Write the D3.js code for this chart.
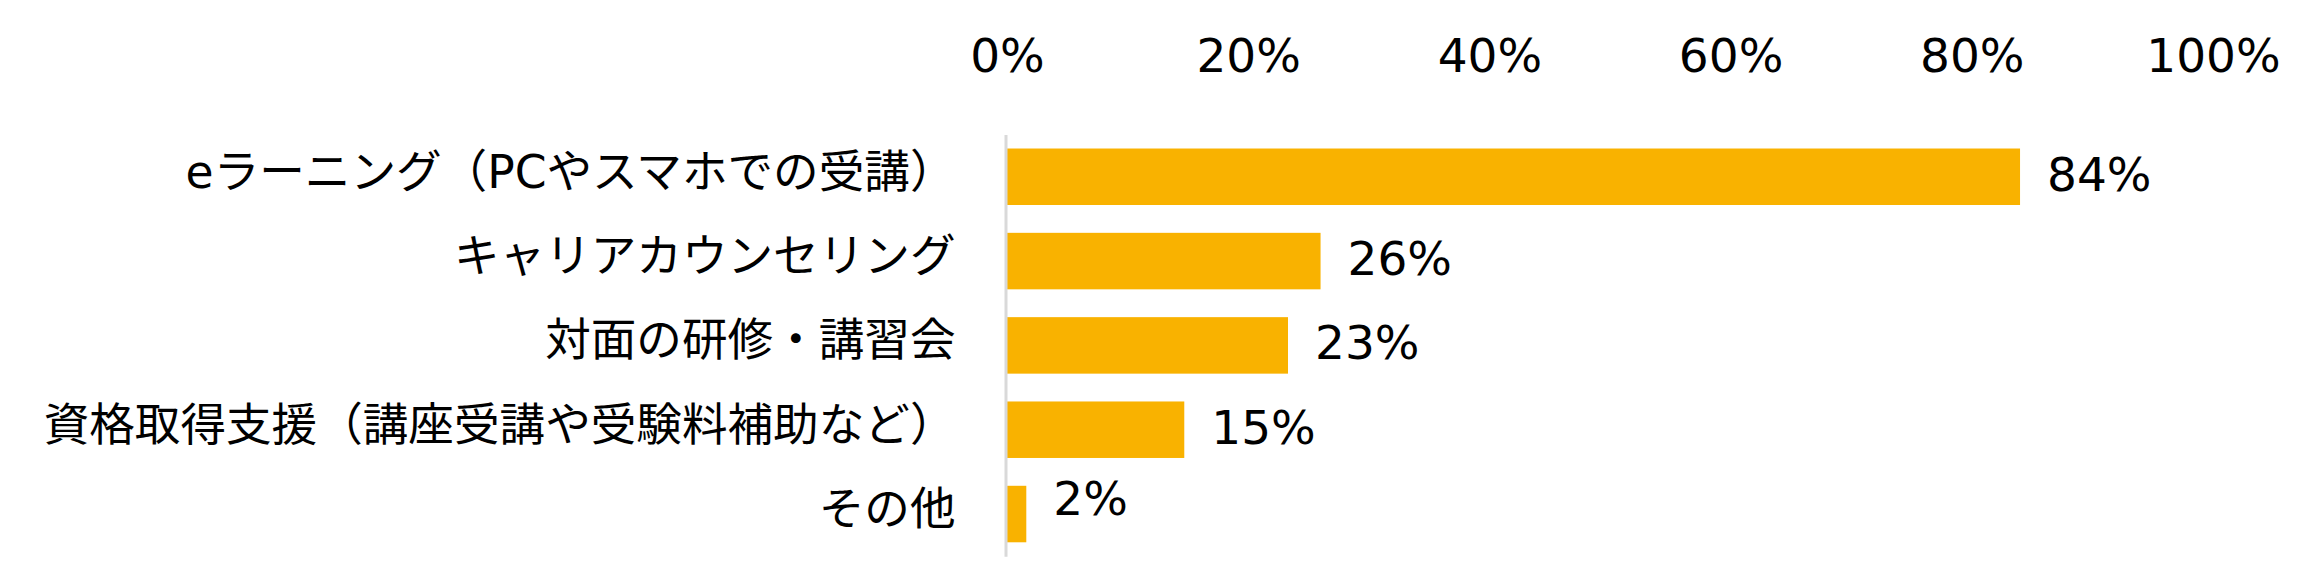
<!DOCTYPE html>
<html>
<head>
<meta charset="utf-8">
<script src="https://cdn.jsdelivr.net/npm/d3@7"></script>
<style>
  body { margin: 0; background: #fff; }
</style>
</head>
<body>
<div id="chart"></div>
<script>
// data
const categories = [
  "eラーニング（PCやスマホでの受講）",
  "キャリアカウンセリング",
  "対面の研修・講習会",
  "資格取得支援（講座受講や受験料補助など）",
  "その他"
];
const values = [0.840, 0.260, 0.233, 0.147, 0.016];
const ticks = [0, 0.2, 0.4, 0.6, 0.8, 1.0];

const w = 2313;
const h = 583;
const padLeft = 1007;
const padRight = 2213;
const padTop = 134.6;
const padBottom = 556.2;
const numFont = "'DejaVu Sans', 'Noto Sans CJK JP', sans-serif";
const labelFont = "'DejaVu Sans', 'Noto Sans CJK JP', sans-serif";
// the last data label sits a bit higher in the original
const labelLift = { "その他": 13 };

const svg = d3.select("#chart")
  .append("svg")
  .attr("width", w)
  .attr("height", h)
  .attr("viewBox", [0, 0, w, h]);

svg.append("rect").attr("width", w).attr("height", h).attr("fill", "#fff");

const x = d3.scaleLinear().domain([0, 1]).range([padLeft, padRight]);
const y = d3.scaleBand()
  .domain(categories)
  .range([padTop, padBottom])
  .paddingInner(0.33)
  .paddingOuter(0.165);

const rows = categories.map((c, i) => ({ cat: c, v: values[i] }));

// bars
svg.append("g")
  .selectAll("rect")
  .data(rows)
  .join("rect")
  .attr("x", x(0))
  .attr("y", d => y(d.cat))
  .attr("width", d => x(d.v) - x(0))
  .attr("height", y.bandwidth())
  .attr("fill", "#F9B200");

// top percentage axis, no line
const xAxis = svg.append("g")
  .attr("transform", "translate(0,72)")
  .call(d3.axisTop(x).tickValues(ticks).tickFormat(d3.format(".0%")).tickSize(0).tickPadding(0));
xAxis.select("path.domain").remove();
xAxis.selectAll("text")
  .attr("dy", 0)
  .attr("fill", "#000")
  .style("font-family", numFont)
  .style("font-size", "47px");

// category axis
const yAxis = svg.append("g")
  .attr("transform", `translate(${padLeft - 1.5},0)`)
  .call(d3.axisLeft(y).tickSize(0).tickPadding(50).tickSizeOuter(0));
yAxis.select("path.domain")
  .attr("stroke", "#d9d9d9")
  .attr("stroke-width", 3);
yAxis.selectAll("text")
  .attr("dy", "0.24em")
  .attr("fill", "#000")
  .style("font-family", labelFont)
  .style("font-size", "45.6px");

// value labels
svg.append("g")
  .selectAll("text")
  .data(rows)
  .join("text")
  .attr("x", d => x(d.v) + 27)
  .attr("y", d => y(d.cat) + y.bandwidth() / 2 - 2.5 - (labelLift[d.cat] || 0))
  .attr("dy", "0.35em")
  .attr("fill", "#000")
  .style("font-family", numFont)
  .style("font-size", "47px")
  .text(d => d3.format(".0%")(d.v));
</script>
</body>
</html>
